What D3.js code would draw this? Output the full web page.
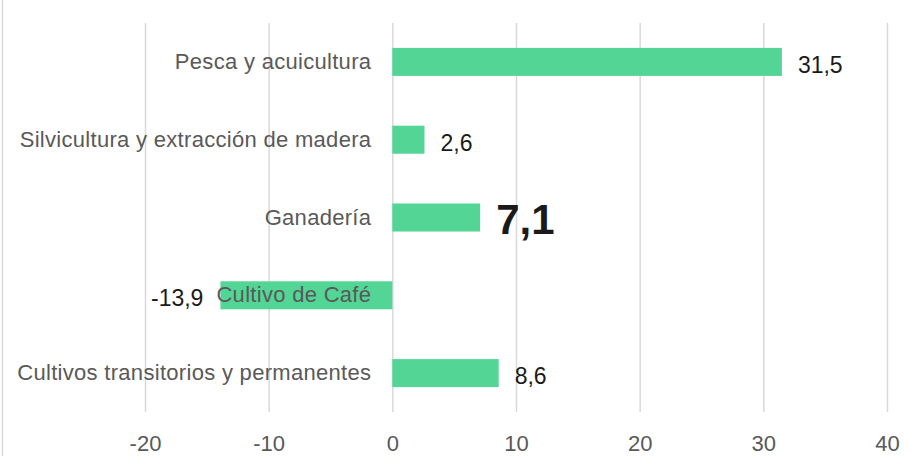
<!DOCTYPE html>
<html>
<head>
<meta charset="utf-8">
<script src="https://cdn.jsdelivr.net/npm/d3@7/dist/d3.min.js"></script>
<style>
  html, body { margin: 0; padding: 0; background: #fff; }
  svg { display: block; }
</style>
</head>
<body>
<svg id="chart" width="911" height="461"></svg>
<script>
const categories = [
  "Pesca y acuicultura",
  "Silvicultura y extracción de madera",
  "Ganadería",
  "Cultivo de Café",
  "Cultivos transitorios y permanentes"
];
const values = [31.5, 2.6, 7.1, -13.9, 8.6];
const highlighted = ["Ganadería"];
const tickValues = [-20, -10, 0, 10, 20, 30, 40];

const svg = d3.select("#chart");
const font = "'Liberation Sans', Arial, sans-serif";

const x = d3.scaleLinear().domain([-20, 40]).range([145, 887]);
const y = d3.scaleBand().domain(categories).range([23, 412])
  .paddingInner(0.64).paddingOuter(0.32);

// outer left border
svg.append("line").attr("x1", 2.5).attr("x2", 2.5).attr("y1", 0).attr("y2", 456)
  .attr("stroke", "#d9d9d9").attr("stroke-width", 1.5);

// gridlines + tick labels
const axis = d3.axisBottom(x).tickValues(tickValues).tickSize(412 - 23).tickFormat(d => d);
const g = svg.append("g").attr("transform", "translate(0,23)").call(axis);
g.select(".domain").remove();
g.selectAll(".tick line").attr("stroke", "#d9d9d9").attr("stroke-width", 1.5);
g.selectAll(".tick text")
  .attr("y", 428).attr("dy", 0)
  .attr("fill", "#595959")
  .style("font-family", font).style("font-size", "22px");

const data = categories.map((c, i) => ({ c, v: values[i] }));

// bars
svg.append("g").selectAll("rect").data(data).join("rect")
  .attr("x", d => x(Math.min(0, d.v)))
  .attr("width", d => Math.abs(x(d.v) - x(0)))
  .attr("y", d => y(d.c))
  .attr("height", y.bandwidth())
  .attr("fill", "#52d595");

// category labels
svg.append("g").selectAll("text").data(data).join("text")
  .attr("x", x(0) - 21)
  .attr("y", d => y(d.c) + y.bandwidth() / 2)
  .attr("dy", "0.32em")
  .attr("text-anchor", "end")
  .attr("fill", "#595959")
  .style("font-family", font).style("font-size", "22px")
  .style("letter-spacing", "0.3px")
  .text(d => d.c);

// value labels
const fmt = v => String(v).replace(".", ",");
svg.append("g").selectAll("text").data(data).join("text")
  .attr("x", d => d.v >= 0 ? x(d.v) + 16 : x(d.v) - 17)
  .attr("y", d => y(d.c) + y.bandwidth() / 2)
  .attr("dy", d => highlighted.includes(d.c) ? "0.4em" : "0.48em")
  .attr("text-anchor", d => d.v >= 0 ? "start" : "end")
  .attr("fill", "#1a1a1a")
  .style("font-family", font)
  .style("font-size", d => highlighted.includes(d.c) ? "42px" : "23px")
  .style("font-weight", d => highlighted.includes(d.c) ? "bold" : "normal")
  .text(d => fmt(d.v));
</script>
</body>
</html>
